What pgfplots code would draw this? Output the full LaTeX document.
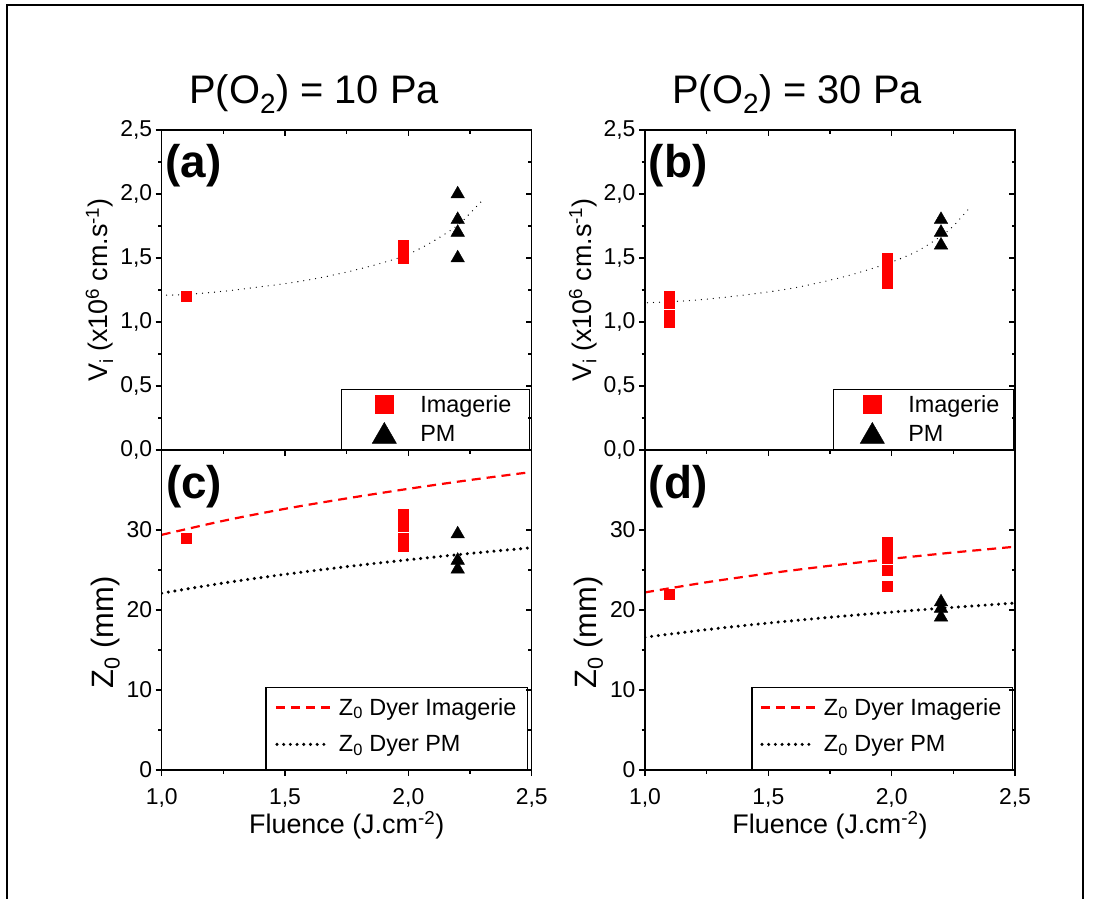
\documentclass[border=0pt]{standalone}
\usepackage{fontspec}
\setmainfont{Liberation Sans}
\usepackage{pgfplots}
\pgfplotsset{compat=1.18}

\pgfplotsset{
  common/.style={
    scale only axis, width=370bp, height=320bp,
    xmin=1, xmax=2.5, xtick={1,1.5,2,2.5}, minor x tick num=1,
    major tick length=6bp, minor tick length=3.5bp,
    axis line style={line width=1.5bp},
    every tick/.style={black, line width=1.2bp},
  },
  panel/.style={common, tick align=outside, xtick pos=left, ytick pos=left,
    tick label style={font=\fontsize{23}{27}\selectfont},
    /pgf/number format/assume math mode=true,
    xticklabel style={yshift=-9bp, /pgf/number format/.cd, fixed, fixed zerofill, precision=1, use comma},
    label style={font=\fontsize{27}{32}\selectfont},
    xlabel style={yshift=3bp},
    legend cell align=left,
  },
  over/.style={common, tick align=inside, xtick pos=right, ytick pos=right, xticklabels={}, yticklabels={}},
  toppanel/.style={ymin=0, ymax=2.5, ytick={0,0.5,1,1.5,2,2.5}, minor y tick num=1},
  botpanel/.style={ymin=0, ymax=40, ytick={0,10,20,30}, minor y tick num=1},
  sq/.style={only marks, mark=square*, mark size=5bp, mark options={draw=red, fill=red, line width=0.4bp}, forget plot},
  tri/.style={only marks, mark=triangle*, mark size=7.8bp, mark options={draw=black, fill=black}, forget plot},
  fitl/.style={black, line width=1.3bp, line cap=round, dash pattern=on 0bp off 6bp, smooth, no marks, forget plot},
  dyerI/.style={red, line width=2.2bp, dash pattern=on 9bp off 6bp, smooth, no marks, forget plot},
  dyerP/.style={black, line width=3.4bp, line cap=round, dash pattern=on 0bp off 6.7bp, smooth, no marks, forget plot},
  legsq/.style 2 args={legend image code/.code={\path[draw=none] (0bp,-15bp) rectangle (#1,15bp); \draw[red, line width=0.4bp] plot[mark=square*, mark size=9bp, mark options={draw=red, fill=red}] coordinates {(#2,0bp)};}},
  legtri/.style 2 args={legend image code/.code={\path[draw=none] (0bp,-15bp) rectangle (#1,15bp); \draw[black, line width=0.4bp] plot[mark=triangle*, mark size=14bp, mark options={draw=black, fill=black}] coordinates {(#2,-2bp)};}},
  legI/.style 2 args={legend image code/.code={\path[draw=none] (0bp,-17bp) rectangle (#1,20bp); \draw[red, line width=2.2bp, dash pattern=on 9bp off 6bp] (#2,0bp) -- ++(54bp,0bp);}},
  legP/.style 2 args={legend image code/.code={\path[draw=none] (0bp,-25bp) rectangle (#1,20bp); \draw[black, line width=3.4bp, line cap=round, dash pattern=on 0bp off 6.7bp] (#2,0bp) -- ++(52bp,0bp);}},
  legbox/.style={legend style={at={(#1,0)}, anchor=south east, draw=black, line width=1.2bp, fill=white,
     font=\fontsize{23.5}{27}\selectfont, inner sep=0bp, row sep=0bp, column sep=0bp,
     cells={inner sep=0bp, draw=none, anchor=west}}},
  zlabel/.style={ylabel={Z\textsubscript{0} (mm)}, ylabel style={font=\fontsize{31}{36}\selectfont, at={(ticklabel cs:0.43)}}},
}

\begin{document}
\begin{tikzpicture}
\useasboundingbox (0,0) rectangle (1093bp,-899bp);
\draw[line width=2.5bp] (7bp,-899bp) -- (7bp,-5bp) -- (1083bp,-5bp) -- (1083bp,-899bp);

\node[font=\fontsize{40}{48}\selectfont, anchor=base] at (314bp,-103bp) {P(O\textsubscript{2}) = 10 Pa};
\node[font=\fontsize{40}{48}\selectfont, anchor=base] at (797bp,-103bp) {P(O\textsubscript{2}) = 30 Pa};

% ---------- (a) ----------
\begin{axis}[panel, toppanel, at={(161.7bp,-450bp)}, anchor=south west,
  xticklabels={},
  yticklabel style={/pgf/number format/.cd, fixed, fixed zerofill, precision=1, use comma},
  ylabel={V\textsubscript{i} (x10\textsuperscript{6} cm.s\textsuperscript{-1})},
  legbox=0.9954]
\addlegendimage{legsq={77bp}{43bp}}
\addlegendentry{Imagerie\hspace*{16bp}}
\addlegendimage{legtri={77bp}{43bp}}
\addlegendentry{PM}
\addplot[fitl] coordinates {(1.02,1.21) (1.1,1.215) (1.25,1.24) (1.4,1.275) (1.5,1.30) (1.6,1.33) (1.75,1.39) (1.9,1.465) (2.0,1.53) (2.1,1.63) (2.2,1.755) (2.25,1.85) (2.3,1.95)};
\addplot[sq] coordinates {(1.1,1.2) (1.98,1.5) (1.98,1.53) (1.98,1.57) (1.98,1.6)};
\addplot[tri] coordinates {(2.2,2.0) (2.2,1.8) (2.2,1.7) (2.2,1.5)};
\node[font=\bfseries\fontsize{46}{55}\selectfont, inner sep=0pt] at (axis cs:1.128,2.225) {(a)};
\end{axis}
\begin{axis}[over, toppanel, at={(161.7bp,-450bp)}, anchor=south west]
\end{axis}

% ---------- (b) ----------
\begin{axis}[panel, toppanel, at={(645bp,-450bp)}, anchor=south west,
  xticklabels={},
  yticklabel style={/pgf/number format/.cd, fixed, fixed zerofill, precision=1, use comma},
  ylabel={V\textsubscript{i} (x10\textsuperscript{6} cm.s\textsuperscript{-1})},
  legbox=0.9973]
\addlegendimage{legsq={73bp}{39bp}}
\addlegendentry{Imagerie\hspace*{12bp}}
\addlegendimage{legtri={73bp}{39bp}}
\addlegendentry{PM}
\addplot[fitl] coordinates {(1.01,1.15) (1.2,1.17) (1.4,1.21) (1.6,1.265) (1.8,1.35) (1.98,1.455) (2.1,1.55) (2.2,1.67) (2.25,1.75) (2.32,1.90)};
\addplot[sq] coordinates {(1.1,1.2) (1.1,1.15) (1.1,1.05) (1.1,1.0) (1.98,1.3) (1.98,1.35) (1.98,1.4) (1.98,1.45) (1.98,1.5)};
\addplot[tri] coordinates {(2.2,1.8) (2.2,1.7) (2.2,1.6)};
\node[font=\bfseries\fontsize{46}{55}\selectfont, inner sep=0pt] at (axis cs:1.134,2.225) {(b)};
\end{axis}
\begin{axis}[over, toppanel, at={(645bp,-450bp)}, anchor=south west]
\end{axis}

% ---------- (c) ----------
\begin{axis}[panel, botpanel, at={(161.7bp,-770bp)}, anchor=south west,
  xlabel={Fluence (J.cm\textsuperscript{-2})},
  zlabel,
  legbox=0.990]
\addlegendimage{legI={71bp}{10bp}}
\addlegendentry{Z\textsubscript{0} Dyer Imagerie\hspace*{9bp}}
\addlegendimage{legP={71bp}{11bp}}
\addlegendentry{Z\textsubscript{0} Dyer PM}
\addplot[dyerI] coordinates {(1.0,29.4) (1.25,31.15) (1.5,32.65) (1.75,33.95) (2.0,35.15) (2.25,36.25) (2.5,37.25)};
\addplot[dyerP] coordinates {(1.0,22.1) (1.25,23.37) (1.5,24.46) (1.75,25.42) (2.0,26.28) (2.25,27.07) (2.5,27.79)};
\addplot[sq] coordinates {(1.1,29) (1.98,32) (1.98,31) (1.98,30.5) (1.98,29) (1.98,28)};
\addplot[tri] coordinates {(2.2,29.5) (2.2,26.2) (2.2,25.1)};
\node[font=\bfseries\fontsize{46}{55}\selectfont, inner sep=0pt] at (axis cs:1.132,35.4) {(c)};
\end{axis}
\begin{axis}[over, botpanel, at={(161.7bp,-770bp)}, anchor=south west]
\end{axis}

% ---------- (d) ----------
\begin{axis}[panel, botpanel, at={(645bp,-770bp)}, anchor=south west,
  xlabel={Fluence (J.cm\textsuperscript{-2})},
  zlabel,
  legbox=0.9946]
\addlegendimage{legI={70bp}{9bp}}
\addlegendentry{Z\textsubscript{0} Dyer Imagerie\hspace*{9bp}}
\addlegendimage{legP={70bp}{10bp}}
\addlegendentry{Z\textsubscript{0} Dyer PM}
\addplot[dyerI] coordinates {(1.0,22.2) (1.25,23.47) (1.5,24.57) (1.75,25.53) (2.0,26.40) (2.25,27.19) (2.5,27.91)};
\addplot[dyerP] coordinates {(1.0,16.6) (1.25,17.55) (1.5,18.37) (1.75,19.09) (2.0,19.74) (2.25,20.33) (2.5,20.87)};
\addplot[sq] coordinates {(1.1,22) (1.98,28.5) (1.98,27.5) (1.98,26.5) (1.98,25) (1.98,23)};
\addplot[tri] coordinates {(2.2,21) (2.2,20.2) (2.2,19.1)};
\node[font=\bfseries\fontsize{46}{55}\selectfont, inner sep=0pt] at (axis cs:1.134,35.4) {(d)};
\end{axis}
\begin{axis}[over, botpanel, at={(645bp,-770bp)}, anchor=south west]
\end{axis}
\end{tikzpicture}
\end{document}
